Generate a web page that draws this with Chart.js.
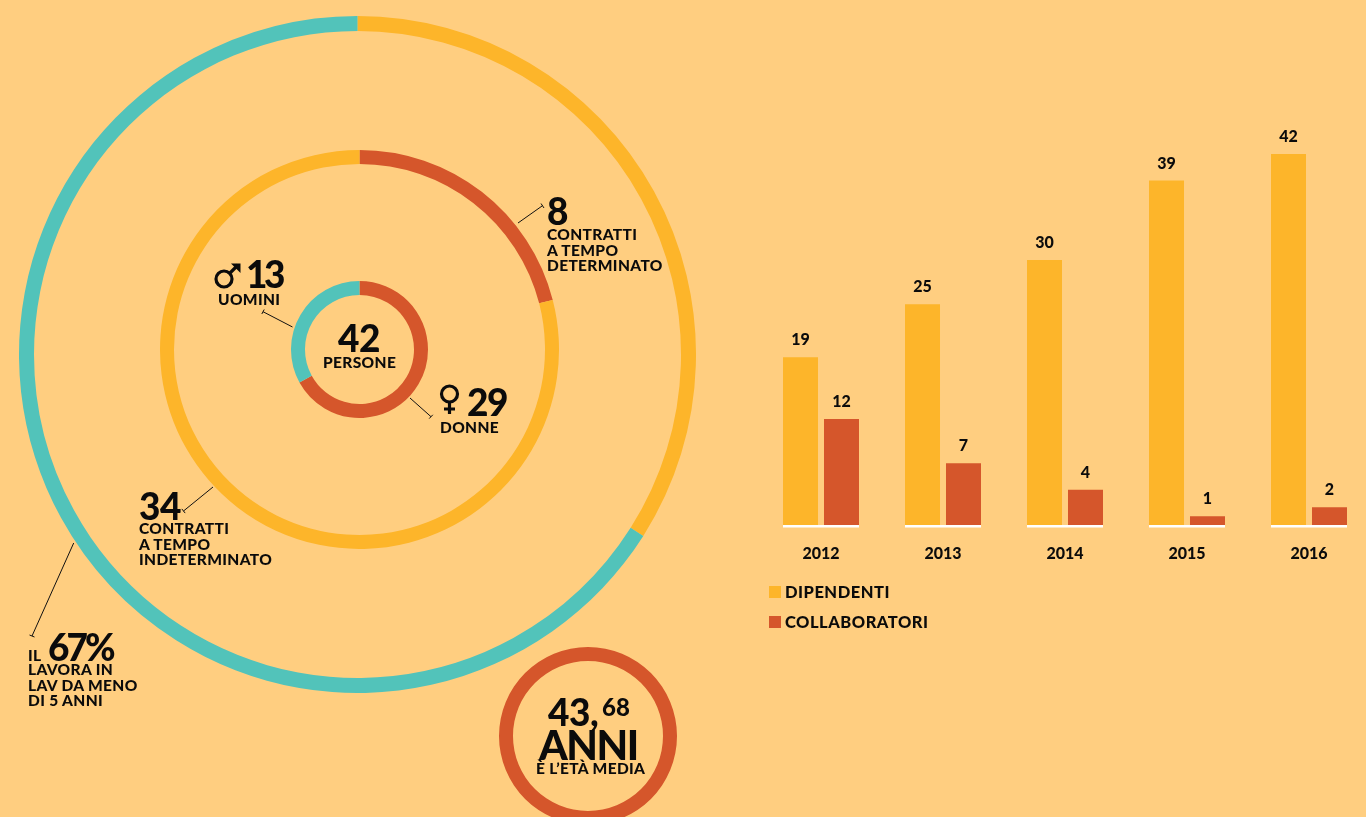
<!DOCTYPE html>
<html>
<head>
<meta charset="utf-8">
<script src="https://cdn.jsdelivr.net/npm/chart.js@4"></script>
<style>
html, body { margin: 0; height: 100%; overflow: hidden; background: #FFCE80; }
canvas { position: absolute; }
#leaders { position: absolute; left: 0; top: 0; }
.t { position: absolute; color: #0b0b0b; font-family: Lato, sans-serif; font-weight: 900; white-space: nowrap; }
.big { font-size: 37px; line-height: 37px; letter-spacing: -0.5px; }
.sm { font-size: 15.5px; line-height: 15.5px; letter-spacing: 0.35px; }
.legend { position: absolute; left: 769px; font: 900 16.5px/12px Lato, sans-serif; letter-spacing: 0.5px; color: #0b0b0b; white-space: nowrap; }
.legend i { display: inline-block; width: 12px; height: 12px; margin-right: 4px; vertical-align: top; }
</style>
</head>
<body>
<canvas id="tenure" width="677" height="677" style="left:19px;top:16px"></canvas>
<canvas id="contracts" width="399" height="399" style="left:160px;top:150px"></canvas>
<canvas id="people" width="137" height="137" style="left:291px;top:281px"></canvas>
<canvas id="age" width="178" height="178" style="left:499px;top:647px"></canvas>
<canvas id="bars" width="610" height="470" style="left:760px;top:100px"></canvas>

<svg id="leaders" width="1366" height="817" fill="none" stroke="#111" stroke-width="1">
  <path d="M518 223L542.500 205.700M541 203.500L544 208"/>
  <path d="M292.500 327L263 311.700M264.200 309.500L261.800 314"/>
  <path d="M410 398L431 416.700M432.800 414.800L429.200 418.600"/>
  <path d="M213 487L183.500 511M181.800 508.900L185.200 513.100"/>
  <path d="M73.700 543L32 636M29.500 635L34.500 637"/>
  <!-- gender signs -->
  <g stroke="#0b0b0b" stroke-width="3.200">
    <circle cx="224" cy="279" r="8"/>
    <path d="M230 273L238 265"/>
    <circle cx="449.500" cy="394" r="8"/>
    <path d="M449.500 402V414M444 409H455"/>
  </g>
  <path d="M231 263.500H240.500V273Z" fill="#0b0b0b" stroke="none"/>
</svg>

<div class="t big" style="left:547px;top:192px">8</div>
<div class="t sm" style="left:547px;top:227px">CONTRATTI<br>A TEMPO<br>DETERMINATO</div>
<div class="t big" style="left:246px;top:255px;letter-spacing:-3.500px">13</div>
<div class="t sm" style="left:218px;top:292px">UOMINI</div>
<div class="t big" style="left:338px;top:319px">42</div>
<div class="t sm" style="left:323px;top:355px">PERSONE</div>
<div class="t big" style="left:467px;top:383px;letter-spacing:-1.500px">29</div>
<div class="t sm" style="left:440px;top:420px">DONNE</div>
<div class="t big" style="left:139px;top:487px">34</div>
<div class="t sm" style="left:139px;top:521px">CONTRATTI<br>A TEMPO<br>INDETERMINATO</div>
<div class="t sm" style="left:28px;top:648px">IL</div>
<div class="t big" style="left:48px;top:628px;letter-spacing:-3px">67%</div>
<div class="t sm" style="left:28px;top:662px">LAVORA IN<br>LAV DA MENO<br>DI 5 ANNI</div>
<div class="t big" style="left:548px;top:693px">43,</div>
<div class="t" style="left:602px;top:695px;font-size:24px;line-height:24px">68</div>
<div class="t" style="left:539px;top:724px;font-size:41px;line-height:41px;letter-spacing:-1.500px">ANNI</div>
<div class="t sm" style="left:536px;top:761px">È L’ETÀ MEDIA</div>

<div id="legend"></div>

<script>
var years = ['2012', '2013', '2014', '2015', '2016'];
var dipendenti = [19, 25, 30, 39, 42];
var collaboratori = [12, 7, 4, 1, 2];

// ring shares as drawn in the picture, in percent
var tenureShares = [34, 66];
var contractShares = [21, 79];
var peopleShares = [67, 33];
var ageShare = [100];

var YELLOW = '#FDB52A';
var RED = '#D5562B';
var TEAL = '#52C3BA';

function ring(id, data, colors, thickness) {
  var canvas = document.getElementById(id);
  return new Chart(canvas, {
    type: 'doughnut',
    data: { datasets: [{ data: data, backgroundColor: colors, borderWidth: 0 }] },
    options: {
      responsive: false,
      animation: false,
      cutout: canvas.width / 2 - thickness,
      plugins: { legend: { display: false }, tooltip: { enabled: false } }
    }
  });
}

// value above each bar
var valueLabels = {
  id: 'valueLabels',
  afterDatasetsDraw: function(chart) {
    var ctx = chart.ctx;
    ctx.save();
    ctx.fillStyle = '#0b0b0b';
    ctx.font = '900 16px Lato';
    ctx.textAlign = 'center';
    ctx.textBaseline = 'middle';
    chart.data.datasets.forEach(function(ds, i) {
      chart.getDatasetMeta(i).data.forEach(function(bar, j) {
        ctx.fillText(ds.data[j], bar.x, bar.y - 17);
      });
    });
    ctx.restore();
  }
};

// white base line under each pair of bars
var baseLines = {
  id: 'baseLines',
  afterDatasetsDraw: function(chart) {
    var first = chart.getDatasetMeta(0).data;
    var second = chart.getDatasetMeta(1).data;
    var y = chart.scales.y.getPixelForValue(0);
    var ctx = chart.ctx;
    ctx.fillStyle = '#fff';
    first.forEach(function(bar, i) {
      var left = bar.x - bar.width / 2;
      ctx.fillRect(left, y, second[i].x + second[i].width / 2 - left, 2.5);
    });
  }
};

ring('tenure', tenureShares, [YELLOW, TEAL], 15);
ring('contracts', contractShares, [RED, YELLOW], 14);
ring('people', peopleShares, [RED, TEAL], 14);
ring('age', ageShare, [RED], 14);

new Chart(document.getElementById('bars'), {
  type: 'bar',
  data: {
    labels: years,
    datasets: [
      { label: 'DIPENDENTI', data: dipendenti, backgroundColor: YELLOW },
      { label: 'COLLABORATORI', data: collaboratori, backgroundColor: RED }
    ]
  },
  options: {
    responsive: false,
    animation: false,
    layout: { padding: { top: 54 } },
    categoryPercentage: 0.672,
    barPercentage: 0.854,
    scales: {
      x: {
        grid: { display: false },
        border: { display: false },
        ticks: { color: '#0b0b0b', padding: 11, font: { family: 'Lato', weight: '900', size: 16 } },
        afterFit: function(scale) { scale.height = 45; }
      },
      y: { display: false, min: 0, max: 42 }
    },
    plugins: { legend: { display: false }, tooltip: { enabled: false } }
  },
  plugins: [baseLines, valueLabels]
}).data.datasets.forEach(function(ds, i) {
  var row = document.createElement('div');
  row.className = 'legend';
  row.style.top = (586 + i * 30) + 'px';
  row.innerHTML = '<i style="background:' + ds.backgroundColor + '"></i>' + ds.label;
  document.getElementById('legend').appendChild(row);
});
</script>
</body>
</html>
